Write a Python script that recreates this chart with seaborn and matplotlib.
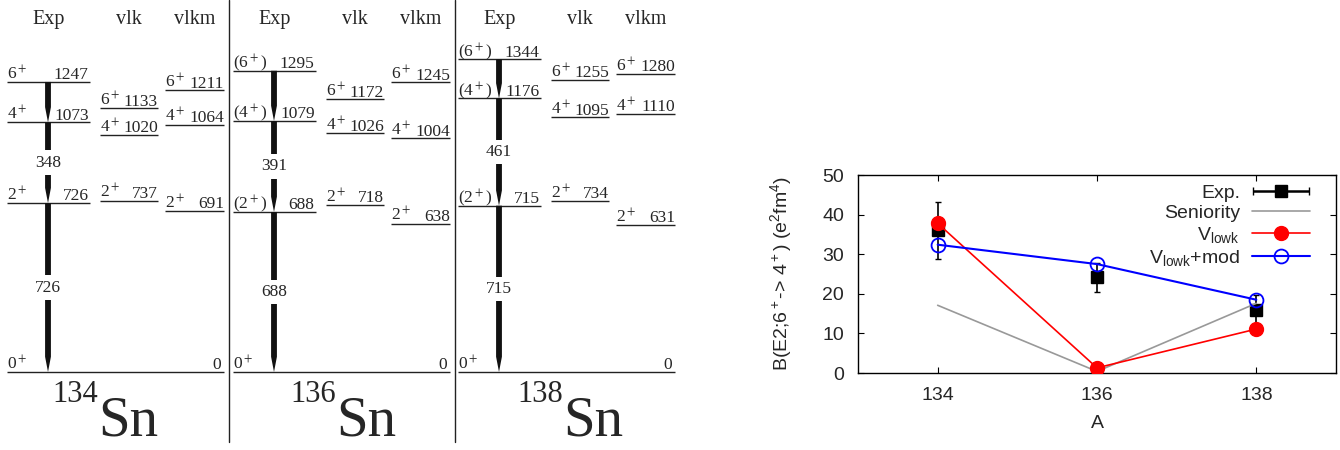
import numpy as np
import pandas as pd
import matplotlib.pyplot as plt
import seaborn as sns
from matplotlib.container import ErrorbarContainer
from matplotlib.legend_handler import HandlerErrorbar

# ---- level schemes (keV) ----
isotopes = ['134', '136', '138']
exp_levels = [[0, 726, 1073, 1247], [0, 688, 1079, 1295], [0, 715, 1176, 1344]]
exp_spins = [['0$^+$', '2$^+$', '4$^+$', '6$^+$'],
             ['0$^+$', '(2$^+$)', '(4$^+$)', '(6$^+$)'],
             ['0$^+$', '(2$^+$)', '(4$^+$)', '(6$^+$)']]
vlk_levels = [[737, 1020, 1133], [718, 1026, 1172], [734, 1095, 1255]]
vlkm_levels = [[691, 1064, 1211], [638, 1004, 1245], [631, 1110, 1280]]
th_spins = ['2$^+$', '4$^+$', '6$^+$']
gamma_labels = [[726, 348], [688, 391], [715, 461]]
columns = ['Exp', 'vlk', 'vlkm']

# ---- B(E2; 6+ -> 4+) ----
mass = [134, 136, 138]
be2_exp = [36.0, 24.2, 16.0]
be2_exp_err = [7.1, 3.7, 3.6]
be2_seniority = [17.1, 0.4, 17.6]
be2_vlowk = [37.8, 1.3, 11.1]
be2_vlowk_mod = [32.4, 27.5, 18.5]

sns.set_style('ticks')
plt.rcParams['font.family'] = ['Liberation Sans', 'DejaVu Sans']
plt.rcParams['mathtext.fontset'] = 'custom'
plt.rcParams['mathtext.rm'] = 'Liberation Sans'
plt.rcParams['mathtext.it'] = 'Liberation Sans:italic'

fig = plt.figure(figsize=(13.4, 4.5), dpi=100)

# left: level schemes, x in pixels, y in keV
ax = fig.add_axes([0, 0, 680 / 1340, 1])
ax.set_xlim(0, 680)
ax.set_ylim(-335.3, 1599.3)
ax.axis('off')

serif = dict(family='Liberation Serif', math_fontfamily='stix')
lfs = 12.5
panel_x = [7, 233, 458]
col_span = [(0, 83), (93, 151), (158, 217)]
sn_x = [98, 336, 563]
arrow_dx = 41
lc = '#222222'
hdr = ax.get_xaxis_transform()

for p, x0 in enumerate(panel_x):
    # headers
    for c, name in enumerate(columns):
        a, b = col_span[c]
        ax.text(x0 + (a + b) / 2, 0.957, name, transform=hdr, ha='center',
                va='center', fontsize=14.5, **serif)
    # ground state line across all columns
    ax.hlines(0, x0, x0 + col_span[2][1], color=lc, lw=1)
    ax.annotate(exp_spins[p][0], (x0, 0), xytext=(0, 2), textcoords='offset points',
                ha='left', va='baseline', fontsize=lfs, **serif)
    ax.annotate('0', (x0 + col_span[2][1], 0), xytext=(-2, 2), textcoords='offset points',
                ha='right', va='baseline', fontsize=lfs, **serif)
    # experimental levels
    a, b = col_span[0]
    for e, s in zip(exp_levels[p][1:], exp_spins[p][1:]):
        ax.hlines(e, x0 + a, x0 + b, color=lc, lw=1)
        ax.annotate(s, (x0 + a, e), xytext=(0, 2), textcoords='offset points',
                    ha='left', va='baseline', fontsize=lfs, **serif)
        ax.annotate(str(e), (x0 + b, e), xytext=(-1, 2), textcoords='offset points',
                    ha='right', va='baseline', fontsize=lfs, **serif)
    # theory levels
    for c, levels in ((1, vlk_levels[p]), (2, vlkm_levels[p])):
        a, b = col_span[c]
        for e, s in zip(levels, th_spins):
            ax.hlines(e, x0 + a, x0 + b, color=lc, lw=1)
            ax.annotate(s, (x0 + a, e), xytext=(0, 2), textcoords='offset points',
                        ha='left', va='baseline', fontsize=lfs, **serif)
            ax.annotate(str(e), (x0 + b, e), xytext=(0, 2), textcoords='offset points',
                        ha='right', va='baseline', fontsize=lfs, **serif)
    # gamma transitions
    xa = x0 + arrow_dx
    lv = exp_levels[p]
    for hi, lo in ((3, 2), (2, 1), (1, 0)):
        ax.annotate('', xy=(xa, lv[lo]), xytext=(xa, lv[hi]),
                    arrowprops=dict(arrowstyle='simple,head_length=1.1,head_width=0.42,tail_width=0.42',
                                    mutation_scale=10, fc='#111111', ec='none',
                                    shrinkA=0, shrinkB=0), zorder=2)
    for (hi, lo), g in zip(((1, 0), (2, 1)), gamma_labels[p]):
        ax.text(xa, (lv[hi] + lv[lo]) / 2, str(g), ha='center', va='center', fontsize=lfs,
                bbox=dict(boxstyle='square,pad=0.25', fc='white', ec='none'), zorder=3, **serif)
    # isotope label
    ax.text(sn_x[p], 1 - 402 / 450, isotopes[p], transform=hdr, ha='right', va='baseline',
            fontsize=22, **serif)
    ax.text(sn_x[p], 1 - 448 / 450, 'Sn', transform=hdr, ha='left', va='bottom',
            fontsize=41, **serif)

for xd in (228.5, 455):
    ax.axvline(xd, ymin=0.018, ymax=1, color=lc, lw=1)

# right: B(E2) systematics
bx = fig.add_axes([858 / 1340, 77 / 450, 478 / 1340, 198 / 450])
bx.errorbar(mass, be2_exp, yerr=be2_exp_err, fmt='s', color='black', ms=8,
            capsize=2, elinewidth=1.2, zorder=2)
bx.errorbar([np.nan], [np.nan], xerr=[1], fmt='s', color='black', ms=9,
            capsize=3, elinewidth=1.8, label='Exp.')
sns.lineplot(x=mass, y=be2_seniority, color='#999999', lw=1.2, label='Seniority', ax=bx, zorder=3)
sns.lineplot(x=mass, y=be2_vlowk, color='red', lw=1.2, marker='o', markersize=10,
             markeredgecolor='red', markeredgewidth=1, label=r'V$_{\rm lowk}$', ax=bx, zorder=4)
sns.lineplot(x=mass, y=be2_vlowk_mod, color='blue', lw=1.5, marker='o', markersize=10,
             markerfacecolor='none', markeredgecolor='blue', markeredgewidth=1.3,
             label=r'V$_{\rm lowk}$+mod', ax=bx, zorder=5)

bx.set_xlim(133, 139)
bx.set_ylim(0, 50)
bx.set_xticks(mass)
bx.set_yticks([0, 10, 20, 30, 40, 50])
bx.tick_params(direction='in', top=True, right=True, length=4, width=0.8,
               labelsize=14, color='black')
bx.tick_params(axis='y', pad=10)
bx.tick_params(axis='x', pad=10)
for s in bx.spines.values():
    s.set_color('black')
    s.set_linewidth(1)
bx.set_xlabel('A', fontsize=14, labelpad=8)
bx.set_ylabel('B(E2;6$^+$-> 4$^+$) (e$^2$fm$^4$)', fontsize=14, labelpad=20)

handles, labels = bx.get_legend_handles_labels()
order = ['Exp.', 'Seniority', r'V$_{\rm lowk}$', r'V$_{\rm lowk}$+mod']
hmap = dict(zip(labels, handles))
bx.legend([hmap[k] for k in order], order, loc='upper right',
          bbox_to_anchor=(452 / 478, 0.955), frameon=False, markerfirst=False,
          fontsize=14, handlelength=3.0, handletextpad=0.6, labelspacing=0.15,
          borderpad=0, borderaxespad=0,
          handler_map={ErrorbarContainer: HandlerErrorbar(xerr_size=1.45)})

fig.savefig('out.png', dpi=100)
